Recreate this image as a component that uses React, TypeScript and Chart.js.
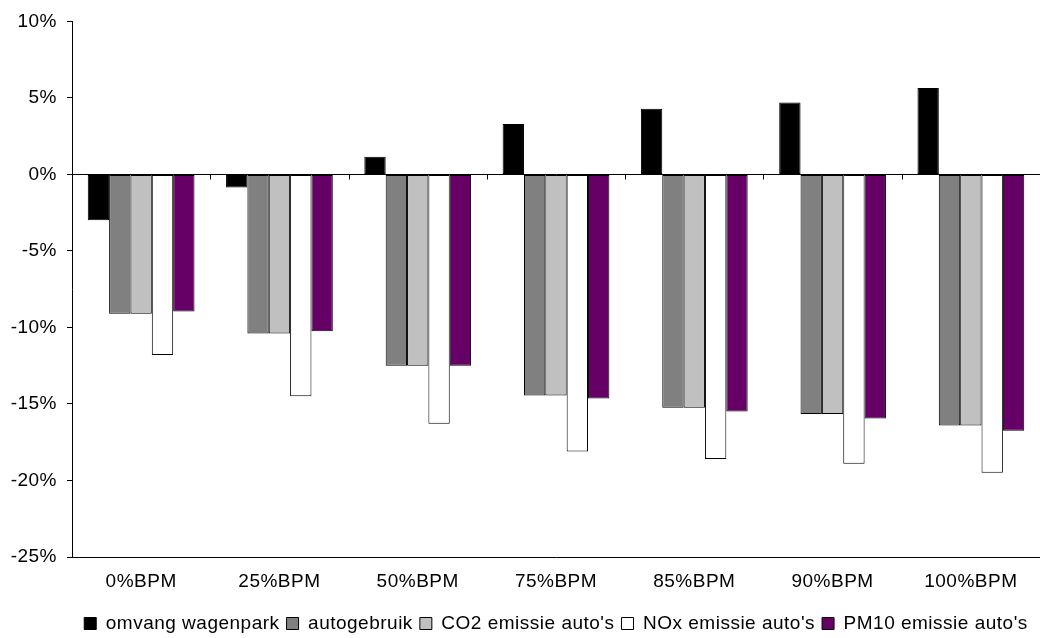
import React, { useEffect, useRef } from "react";
import { Chart, registerables } from "chart.js";

Chart.register(...registerables);

const categories = ["0%BPM", "25%BPM", "50%BPM", "75%BPM", "85%BPM", "90%BPM", "100%BPM"];
const seriesNames = ["omvang wagenpark", "autogebruik", "CO2 emissie auto's", "NOx emissie auto's", "PM10 emissie auto's"];
const omvangWagenpark = [-3.0, -0.85, 1.15, 3.3, 4.3, 4.7, 5.65];
const autogebruik = [-9.1, -10.4, -12.5, -14.45, -15.25, -15.65, -16.4];
const co2Emissie = [-9.1, -10.4, -12.5, -14.45, -15.25, -15.65, -16.4];
const noxEmissie = [-11.8, -14.5, -16.3, -18.1, -18.6, -18.9, -19.5];
const pm10Emissie = [-8.95, -10.25, -12.5, -14.65, -15.5, -15.95, -16.75];
const seriesColors = ["#000000", "#808080", "#C0C0C0", "#FFFFFF", "#660066"];
const yMin = -25;
const yMax = 10;
const yStep = 5;

const FONT = "'Liberation Sans', Arial, Helvetica, sans-serif";
const FONT_SIZE = 19;

const spacingPlugin = {
  id: "spacing",
  beforeLayout(chart: any) {
    chart.ctx.letterSpacing = "0.5px";
  },
  beforeDraw(chart: any) {
    chart.ctx.letterSpacing = "0.5px";
  },
};

const zeroTicksPlugin = {
  id: "zeroTicks",
  afterDatasetsDraw(chart: any) {
    const x = chart.scales.x;
    const y = chart.scales.y;
    const ctx = chart.ctx;
    const y0 = Math.round(y.getPixelForValue(0)) + 0.5;
    ctx.save();
    ctx.strokeStyle = "#000";
    ctx.lineWidth = 1;
    ctx.beginPath();
    for (let i = 0; i < categories.length - 1; i++) {
      const px = Math.round((x.getPixelForValue(i) + x.getPixelForValue(i + 1)) / 2) + 0.5;
      ctx.moveTo(px, y0);
      ctx.lineTo(px, y0 + 5);
    }
    ctx.stroke();
    ctx.restore();
  },
};

export default function App() {
  const ref = useRef<HTMLCanvasElement | null>(null);
  useEffect(() => {
    if (!ref.current) return;
    const values = [omvangWagenpark, autogebruik, co2Emissie, noxEmissie, pm10Emissie];
    const chart = new Chart(ref.current, {
      type: "bar",
      data: {
        labels: categories,
        datasets: seriesNames.map((name, i) => ({
          label: name,
          data: values[i],
          backgroundColor: seriesColors[i],
          borderColor: "#000000",
          borderWidth: 1,
          borderSkipped: false,
          barPercentage: 1,
          categoryPercentage: 0.772,
        })),
      },
      options: {
        animation: false,
        responsive: true,
        maintainAspectRatio: false,
        layout: { padding: { top: 19, left: 0, right: 0, bottom: -5 } },
        plugins: {
          legend: {
            position: "bottom",
            fullSize: false,
            labels: {
              color: "#000",
              font: { family: FONT, size: FONT_SIZE },
              boxWidth: 12,
              boxHeight: 12,
              padding: 7,
            },
          },
          tooltip: { enabled: false },
        },
        scales: {
          x: {
            grid: { display: false, drawTicks: false },
            border: { display: true, color: "#000", width: 1 },
            ticks: { color: "#000", font: { family: FONT, size: FONT_SIZE }, padding: 13, maxRotation: 0 },
            afterFit: (s: any) => {
              s.height = 50;
            },
          },
          y: {
            min: yMin,
            max: yMax,
            ticks: {
              stepSize: yStep,
              color: "#000",
              font: { family: FONT, size: FONT_SIZE },
              padding: 10,
              callback: (v: any) => `${v}%`,
            },
            grid: {
              drawTicks: true,
              tickLength: 5,
              tickColor: "#000",
              color: (c: any) => (c.tick && c.tick.value === 0 ? "#000" : "rgba(0,0,0,0)"),
            },
            border: { display: true, color: "#000", width: 1 },
            afterFit: (s: any) => {
              s.width = 72;
            },
          },
        },
      },
      plugins: [spacingPlugin, zeroTicksPlugin],
    });
    return () => chart.destroy();
  }, []);
  return (
    <div style={{ position: "absolute", left: 0, top: 0, width: 1040, height: 638, background: "#fff" }}>
      <canvas ref={ref} />
    </div>
  );
}
